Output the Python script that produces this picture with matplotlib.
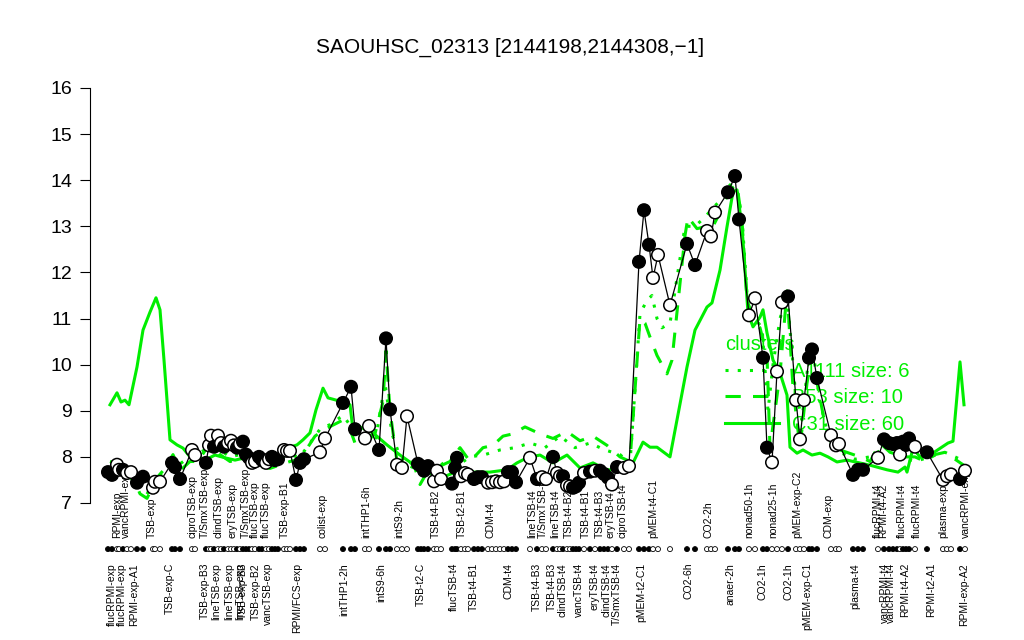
import numpy as np
import matplotlib
matplotlib.use("Agg")
import matplotlib.pyplot as plt
from matplotlib.lines import Line2D

plt.rcParams['font.family'] = ['Liberation Sans', 'DejaVu Sans']

# condition positions along the x axis (ordered as in the browser plot)
pos = [1.6, 2.4, 3.4, 3.8, 4.6, 5.4, 6.2, 7.4, 8.6, 10.6,
       11.0, 12.0, 14.4, 15.0, 16.0, 18.4, 19.0, 21.2, 21.8, 22.2,
       22.8, 23.6, 24.2, 24.8, 25.6, 26.2, 26.8, 27.4, 28.0, 28.6,
       29.2, 29.8, 30.4, 31.0, 31.8, 32.4, 33.2, 33.8, 34.4, 35.0,
       35.6, 36.8, 37.4, 38.0, 39.2, 40.0, 40.8, 44.0, 45.0, 48.6,
       50.2, 51.0, 53.0, 53.8, 55.8, 57.2, 58.0, 59.4, 60.4, 61.4,
       63.6, 64.2, 64.8, 65.6, 66.8, 67.4, 68.2, 70.4, 71.0, 71.4,
       72.2, 73.0, 73.6, 74.8, 75.6, 76.4, 77.6, 78.4, 79.2, 80.0,
       80.8, 81.6, 82.4, 83.2, 86.0, 87.4, 88.4, 89.2, 90.6, 91.4,
       92.0, 92.6, 93.4, 94.0, 94.6, 95.2, 95.8, 96.8, 98.0, 99.0,
       100.0, 100.8, 101.6, 102.4, 103.4, 104.8, 105.8, 107.8, 108.8, 109.8,
       110.6, 111.6, 114.0, 117.4, 119.0, 121.4, 122.2, 123.0, 125.6, 127.0,
       127.8, 129.8, 131.0, 132.6, 133.4, 134.4, 135.4, 136.4, 137.6, 139.2,
       140.0, 140.8, 141.8, 142.4, 143.4, 146.2, 147.2, 147.8, 150.6, 151.6,
       152.6, 155.6, 156.8, 157.8, 158.6, 159.4, 160.0, 160.6, 161.2, 161.8,
       163.0, 165.4, 168.6, 169.4, 170.2, 172.0, 173.0]

# log2 expression of the gene for every condition
expr = [7.67, 7.61, 7.83, 7.72, 7.72, 7.65, 7.67, 7.44, 7.57, 7.33,
        7.46, 7.46, 7.87, 7.78, 7.52, 8.15, 8.04, 7.87, 8.25, 8.46,
        8.22, 8.46, 8.30, 8.22, 8.30, 8.35, 8.25, 8.20, 8.28, 8.33,
        8.05, 7.98, 7.87, 7.90, 8.00, 7.93, 7.87, 7.95, 8.00, 7.93,
        7.95, 8.15, 8.13, 8.13, 7.50, 7.87, 7.95, 8.10, 8.40, 9.17,
        9.52, 8.60, 8.40, 8.67, 8.15, 10.57, 9.03, 7.83, 7.76, 8.88,
        7.85, 7.80, 7.70, 7.80, 7.47, 7.70, 7.52, 7.42, 7.76, 7.98,
        7.58, 7.65, 7.62, 7.52, 7.56, 7.56, 7.44, 7.45, 7.47, 7.45,
        7.47, 7.67, 7.67, 7.45, 7.98, 7.52, 7.56, 7.52, 8.00, 7.65,
        7.58, 7.58, 7.38, 7.36, 7.33, 7.36, 7.44, 7.65, 7.68, 7.70,
        7.70, 7.63, 7.55, 7.40, 7.78, 7.76, 7.80, 12.23, 13.35, 12.60,
        11.88, 12.38, 11.29, 12.62, 12.16, 12.90, 12.78, 13.30, 13.74, 14.09,
        13.15, 11.07, 11.44, 10.15, 8.20, 7.88, 9.85, 11.35, 11.48, 9.23,
        8.38, 9.23, 10.15, 10.33, 9.71, 8.47, 8.25, 8.28, 7.61, 7.72,
        7.72, 7.98, 8.38, 8.30, 8.28, 8.30, 8.05, 8.33, 8.26, 8.40,
        8.22, 8.10, 7.50, 7.58, 7.62, 7.52, 7.70]

# F = filled circle, O = open circle
fill_code = ("FFOOFOOFFO" "OOFFFOOFOO" "FOOFOOOFOF" "FFOOFFOOFF"
             "FOOOFFFOOF" "FFOOFFFOOO" "FFFFOOOFFF" "OOOFFFOOOO"
             "OFFFOFOOFO" "OFOOFFFOFO" "FFFOFOOFFF" "OOOFFOOOFF"
             "FOOFFOOOFO" "OOFFFOOOFF" "FOFFFFOFFF" "OFOOOFO")

# cluster profiles (green)
c31_pos = [2.0, 3.4, 4.2, 5.0, 5.8, 7.4, 8.6, 10.0, 11.2, 12.0,
           12.8, 14.0, 15.4, 16.6, 18.0, 19.2, 21.0, 23.0, 25.0, 27.0,
           29.0, 31.0, 33.0, 36.0, 38.0, 39.4, 40.6, 42.0, 43.2, 44.6,
           45.6, 48.6, 50.0, 50.6, 52.0, 54.6, 57.4, 60.0, 63.4, 65.6,
           68.6, 70.6, 73.4, 78.0, 81.4, 83.4, 85.4, 88.0, 90.6, 93.4,
           96.0, 98.6, 101.4, 104.6, 106.6, 108.6, 110.0, 111.4, 114.0, 117.4,
           119.0, 121.4, 122.4, 124.0, 125.4, 126.6, 127.4, 128.4, 129.6, 130.6,
           132.0, 132.6, 133.4, 134.6, 136.0, 137.4, 138.0, 139.4, 140.6, 142.4,
           144.0, 145.6, 147.4, 149.4, 154.0, 157.4, 159.6, 161.0, 161.4, 162.6,
           164.0, 166.0, 169.6, 170.6, 172.0, 172.8]
c31_val = [9.13, 9.39, 9.19, 9.23, 9.13, 9.95, 10.75, 11.14, 11.45, 11.19,
           10.10, 8.37, 8.26, 8.19, 8.00, 8.04, 7.93, 8.04, 7.98, 7.93,
           7.98, 7.89, 7.93, 7.89, 8.21, 8.26, 8.37, 8.52, 9.02, 9.49,
           9.28, 9.19, 9.13, 8.58, 8.65, 8.52, 8.26, 8.04, 7.78, 7.65,
           7.56, 7.65, 7.67, 7.67, 7.72, 7.87, 7.98, 8.04, 7.87, 8.04,
           7.76, 7.87, 7.72, 7.72, 7.87, 8.32, 8.21, 8.21, 8.00, 9.95,
           10.75, 11.25, 11.34, 12.05, 12.99, 13.75, 13.79, 12.99, 11.12, 10.82,
           11.03, 11.19, 10.69, 10.10, 9.82, 9.34, 8.21, 8.08, 8.15, 8.04,
           8.08, 8.00, 7.89, 7.93, 7.82, 7.72, 7.67, 7.78, 7.67, 8.19,
           8.00, 8.04, 8.30, 8.34, 10.06, 9.13]

b53_pos = [2.0, 3.4, 4.4, 5.6, 7.0, 8.0, 9.4, 11.4, 13.0, 14.6,
           16.0, 18.0, 19.6, 22.0, 24.0, 26.0, 28.0, 30.0, 32.0, 34.0,
           36.6, 38.0, 40.0, 43.0, 45.0, 48.6, 50.0, 51.0, 53.0, 55.0,
           56.6, 57.2, 58.0, 59.4, 61.0, 62.6, 64.0, 65.6, 68.0, 70.0,
           72.0, 74.0, 76.6, 78.6, 80.6, 82.6, 85.0, 88.0, 90.6, 93.4,
           96.0, 98.6, 101.4, 104.0, 106.0, 108.0, 109.0, 110.0, 111.4, 113.4,
           114.4, 117.0, 117.6, 119.4, 121.4, 122.6, 124.0, 126.0, 127.4, 128.4,
           129.4, 131.0, 132.0, 133.4, 134.0, 136.0, 137.4, 138.6, 140.0, 141.4,
           142.4, 143.6, 145.0, 146.6, 148.0, 152.0, 154.0, 156.0, 158.0, 161.0,
           163.0, 165.0, 167.0, 169.0, 171.0, 173.0]
b53_val = [7.65, 7.95, 7.85, 7.60, 7.45, 7.20, 7.10, 7.55, 7.75, 8.05,
           7.70, 7.90, 7.90, 8.30, 8.05, 7.90, 7.95, 8.10, 7.80, 7.75,
           7.85, 7.90, 7.95, 8.45, 8.60, 8.80, 8.60, 8.30, 8.40, 8.50,
           9.20, 10.30, 9.00, 7.90, 7.80, 7.90, 7.40, 7.70, 7.80, 7.90,
           8.20, 7.90, 8.20, 8.25, 8.45, 8.50, 8.65, 8.50, 8.40, 8.55,
           8.35, 8.45, 8.25, 8.00, 7.90, 11.00, 10.90, 10.60, 10.20, 9.80,
           10.10, 12.80, 13.20, 12.95, 13.00, 13.00, 13.30, 13.80, 13.90, 13.10,
           11.40, 10.90, 10.80, 10.20, 8.20, 9.80, 11.60, 9.50, 8.20, 9.60,
           10.20, 9.50, 8.70, 8.20, 8.15, 8.00, 7.90, 8.30, 8.10, 8.00,
           8.00, 7.90, 8.05, 8.10, 7.95, 7.80]

a1111_pos = [2.0, 3.6, 5.6, 8.0, 10.0, 12.0, 14.0, 16.0, 18.0, 20.0,
             22.0, 24.0, 26.0, 28.0, 30.0, 32.0, 34.0, 37.0, 40.0, 42.0,
             44.0, 46.0, 48.6, 50.6, 53.0, 55.0, 57.0, 58.4, 60.0, 62.0,
             64.0, 66.0, 69.0, 72.0, 74.0, 77.0, 80.0, 83.0, 86.0, 89.0,
             92.0, 95.0, 98.0, 101.0, 104.0, 106.0, 108.0, 109.4, 110.4, 111.4,
             112.4, 114.0, 116.0, 117.0, 119.0, 121.0, 122.6, 124.4, 126.0, 127.4,
             128.4, 129.6, 131.0, 132.4, 133.6, 134.6, 136.0, 137.4, 139.0, 140.4,
             141.6, 142.6, 144.0, 146.0, 148.0, 151.0, 154.0, 157.0, 160.0, 163.0,
             166.0, 169.0, 172.0, 173.0]
a1111_val = [7.90, 7.85, 7.60, 7.30, 7.20, 7.60, 7.75, 7.85, 8.00, 8.10,
             8.20, 8.15, 8.00, 8.05, 8.00, 7.90, 7.95, 8.05, 8.00, 8.30,
             8.60, 8.70, 8.90, 8.60, 8.70, 8.30, 9.60, 8.50, 8.00, 7.80,
             7.70, 7.60, 7.90, 7.85, 8.00, 8.05, 8.15, 8.20, 8.30, 8.20,
             8.45, 8.20, 8.30, 8.15, 8.05, 7.85, 11.10, 11.40, 11.50, 11.00,
             10.80, 10.90, 12.30, 13.00, 13.00, 13.20, 13.40, 13.60, 13.90, 13.80,
             13.20, 11.20, 11.00, 10.80, 9.00, 10.00, 11.00, 11.50, 9.50, 8.80,
             10.00, 10.30, 9.20, 8.30, 8.10, 7.95, 8.00, 8.20, 8.00, 7.90,
             8.00, 8.10, 7.95, 7.85]

# condition labels, alternating above / below the dot strip
upper_labels = ["RPMI-exp", "vancRPMI-exp", "TSB-exp", "ciproTSB-exp", "T/SmxTSB-exp",
                "clindTSB-exp", "eryTSB-exp", "T/SmxTSB-exp", "flucTSB-exp", "flucTSB-exp",
                "TSB-exp-B1", "colist-exp", "intTHP1-6h", "intS9-2h", "TSB-t4-B2",
                "TSB-t2-B1", "CDM-t4", "lineTSB-t4", "T/SmxTSB-t4", "lineTSB-t4",
                "TSB-t4-B2", "TSB-t4-B1", "TSB-t4-B3", "eryTSB-t4", "ciproTSB-t4",
                "pMEM-t4-C1", "CO2-2h", "nonad50-1h", "nonad25-1h", "pMEM-exp-C2",
                "CDM-exp", "flucRPMI-t4", "RPMI-t4-A2", "flucRPMI-t4", "flucRPMI-t4",
                "plasma-exp", "vancRPMI-exp"]
upper_pos = [3.4, 5.2, 10.4, 18.4, 21.0, 23.6, 26.4, 29.2, 31.0, 33.2,
             37.0, 44.4, 53.2, 59.8, 67.2, 72.4, 78.0, 86.4, 88.6, 91.0,
             93.8, 97.2, 100.0, 102.0, 104.4, 110.6, 121.6, 129.8, 134.6, 139.4,
             145.6, 155.6, 156.6, 160.4, 163.4, 168.6, 173.2]

lower_labels = ["flucRPMI-exp", "flucRPMI-exp", "RPMI-exp-A1", "TSB-exp-C", "TSB-exp-B3",
                "lineTSB-exp", "lineTSB-exp", "lineTSB-exp", "TSB-exp-B3", "TSB-exp-B2",
                "vancTSB-exp", "RPMI/FCS-exp", "intTHP1-2h", "intS9-6h", "TSB-t2-C",
                "flucTSB-t4", "TSB-t4-B1", "CDM-t4", "TSB-t4-B3", "TSB-t4-B3",
                "clindTSB-t4", "vancTSB-t4", "eryTSB-t4", "clindTSB-t4", "T/SmxTSB-t4",
                "pMEM-t2-C1", "CO2-6h", "anaer-2h", "CO2-1h", "CO2-1h",
                "pMEM-exp-C1", "plasma-t4", "vancRPMI-t4", "vancRPMI-t4", "RPMI-t4-A2",
                "RPMI-t2-A1", "RPMI-exp-A2"]
lower_pos = [2.4, 4.4, 6.8, 14.0, 21.0, 23.2, 25.8, 28.0, 28.6, 31.2,
             33.6, 39.4, 48.8, 56.2, 64.2, 70.8, 74.8, 81.6, 87.4, 90.4,
             92.6, 95.8, 98.8, 101.2, 103.4, 108.2, 117.6, 126.2, 132.4, 137.6,
             141.4, 151.0, 157.0, 158.2, 161.0, 166.2, 172.8]

green = '#00ee00'
faces = ['black' if c == 'F' else 'white' for c in fill_code]

fig = plt.figure(figsize=(10.24, 6.4), dpi=100)
ax = fig.add_axes([90 / 1024, 137 / 640, 920 / 1024, 415 / 640])
ax.set_xlim(-2, 182)
ax.set_ylim(7, 16)

# cluster profiles
ax.plot(a1111_pos, a1111_val, color=green, lw=2.2, ls=(0, (1, 3)), zorder=2)
ax.plot(b53_pos, b53_val, color=green, lw=2.2, ls=(0, (5, 4)), zorder=2)
ax.plot(c31_pos, c31_val, color=green, lw=2.2, zorder=2)

# gene profile
ax.plot(pos, expr, color='black', lw=0.9, zorder=3)
ax.scatter(pos, expr, s=9 ** 2, c=faces, edgecolors='black', linewidths=1.1, zorder=4)

# strip of small circles under the plot
ax.scatter(pos, [6.0] * len(pos), s=3.6 ** 2, c=faces, edgecolors='black',
           linewidths=0.6, zorder=4, clip_on=False)

for name, p in zip(upper_labels, upper_pos):
    ax.text(p, 6.24, name, rotation=90, ha='center', va='bottom', fontsize=7.5,
            clip_on=False, zorder=1)
for name, p in zip(lower_labels, lower_pos):
    ax.text(p, 5.70, name, rotation=90, ha='center', va='top', fontsize=7.5,
            clip_on=False, zorder=1)

# axes in R base style
for side in ['top', 'right', 'bottom']:
    ax.spines[side].set_visible(False)
ax.spines['left'].set_bounds(7, 16)
ax.set_xticks([])
ax.set_yticks(range(7, 17))
ax.tick_params(axis='y', length=7, width=0.8, labelsize=14, pad=6)

fig.text(510 / 1024, 1 - 47 / 640, 'SAOUHSC_02313 [2144198,2144308,\u22121]',
         ha='center', va='center', fontsize=15)

handles = [Line2D([], [], color=green, lw=2.2, ls=(0, (1, 3))),
           Line2D([], [], color=green, lw=2.2, ls=(0, (5, 4))),
           Line2D([], [], color=green, lw=2.2)]
leg = ax.legend(handles, ['A1111 size: 6', 'B53 size: 10', 'C31 size: 60'],
                title='clusters', loc='upper left', bbox_to_anchor=(715 / 1024, 1 - 325 / 640),
                bbox_transform=fig.transFigure, frameon=False, fontsize=14.5,
                title_fontsize=14.5, handlelength=2.7, handletextpad=0.6,
                labelspacing=0.38, borderpad=0, alignment='left')
for t in leg.get_texts():
    t.set_color(green)
leg.get_title().set_color(green)
# legend sits under the gene profile, like in the R plot
leg.set_zorder(2.5)

fig.savefig('out.png', dpi=100)
